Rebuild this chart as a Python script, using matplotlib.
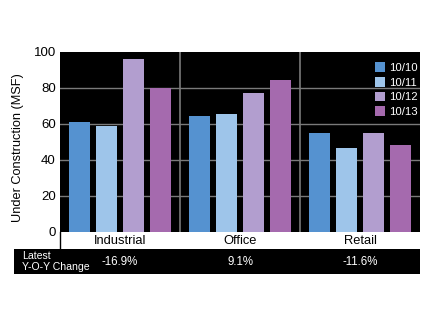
import matplotlib
matplotlib.use("Agg")
import matplotlib.pyplot as plt
from matplotlib.patches import Rectangle
from matplotlib.lines import Line2D
import numpy as np

plt.rcParams['font.family'] = ['Liberation Sans', 'DejaVu Sans']

categories = ["Industrial", "Office", "Retail"]
series_labels = ["10/10", "10/11", "10/12", "10/13"]
values = {
    "10/10": [61, 64.5, 55],
    "10/11": [59, 65.5, 46.5],
    "10/12": [96, 77.5, 55],
    "10/13": [80, 84.5, 48.5],
}
yoy_changes = ["-16.9%", "9.1%", "-11.6%"]
colors = ["#5592d0", "#9ec5ea", "#b29ecf", "#a56aae"]
yticks = [0, 20, 40, 60, 80, 100]

W, H = 432, 328
fig = plt.figure(figsize=(W / 100, H / 100), dpi=100)
fig.patch.set_facecolor("white")

ax = fig.add_axes([60 / W, 1 - 232 / H, 360 / W, 180 / H])
ax.set_facecolor("black")

x = np.arange(len(categories))
pitch = 0.225
width = 0.183
for i, s in enumerate(series_labels):
    ax.bar(x + (i - 1.5) * pitch, values[s], width=width, color=colors[i],
           label=s, zorder=3)

ax.set_xlim(-0.5, len(categories) - 0.5)
ax.set_ylim(0, 100)
ax.set_yticks(yticks)
ax.set_yticklabels([str(t) for t in yticks], fontsize=9.5)
ax.tick_params(axis="y", length=0, pad=3)
ax.set_xticks([])
for t in yticks[1:-1]:
    ax.axhline(t, color="#7a7a7a", lw=1, zorder=1)
for b in [0.5, 1.5]:
    ax.axvline(b, color="#7a7a7a", lw=1.2, zorder=1)
for sp in ax.spines.values():
    sp.set_visible(False)

fig.text(18.5 / W, 1 - 148 / H, "Under Construction (MSF)", rotation=90,
         fontsize=9.2, ha="center", va="center")

leg = ax.legend(loc="upper left", frameon=False, fontsize=8.2,
                labelcolor="white", handlelength=0.85, handleheight=0.95,
                handletextpad=0.35, labelspacing=0.35, borderpad=0,
                borderaxespad=0,
                bbox_to_anchor=((375 - 60) / 360, (232 - 62) / 180))

# category label strip
for i, c in enumerate(categories):
    xf = ax.transData.transform((i, 0))[0] / W
    fig.text(xf, 1 - 241 / H, c, ha="center", va="center",
             fontsize=9.3, color="black")

fig.add_artist(Line2D([60 / W, 60 / W], [1 - 249 / H, 1 - 232 / H],
                      transform=fig.transFigure, color="black", lw=1))

# black band
band = Rectangle((14 / W, 1 - 274 / H), (420 - 14) / W, 25 / H,
                 transform=fig.transFigure, facecolor="black",
                 edgecolor="none", zorder=0)
fig.add_artist(band)
fig.text(22 / W, 1 - 256 / H, "Latest", color="white", fontsize=7.6,
         ha="left", va="center", zorder=5)
fig.text(22 / W, 1 - 267.5 / H, "Y-O-Y Change", color="white", fontsize=7.6,
         ha="left", va="center", zorder=5)
for i, v in enumerate(yoy_changes):
    xf = ax.transData.transform((i, 0))[0] / W
    fig.text(xf, 1 - 262 / H, v, ha="center", va="center",
             fontsize=8.3, color="white", zorder=5)

fig.savefig("out.png", dpi=100)
